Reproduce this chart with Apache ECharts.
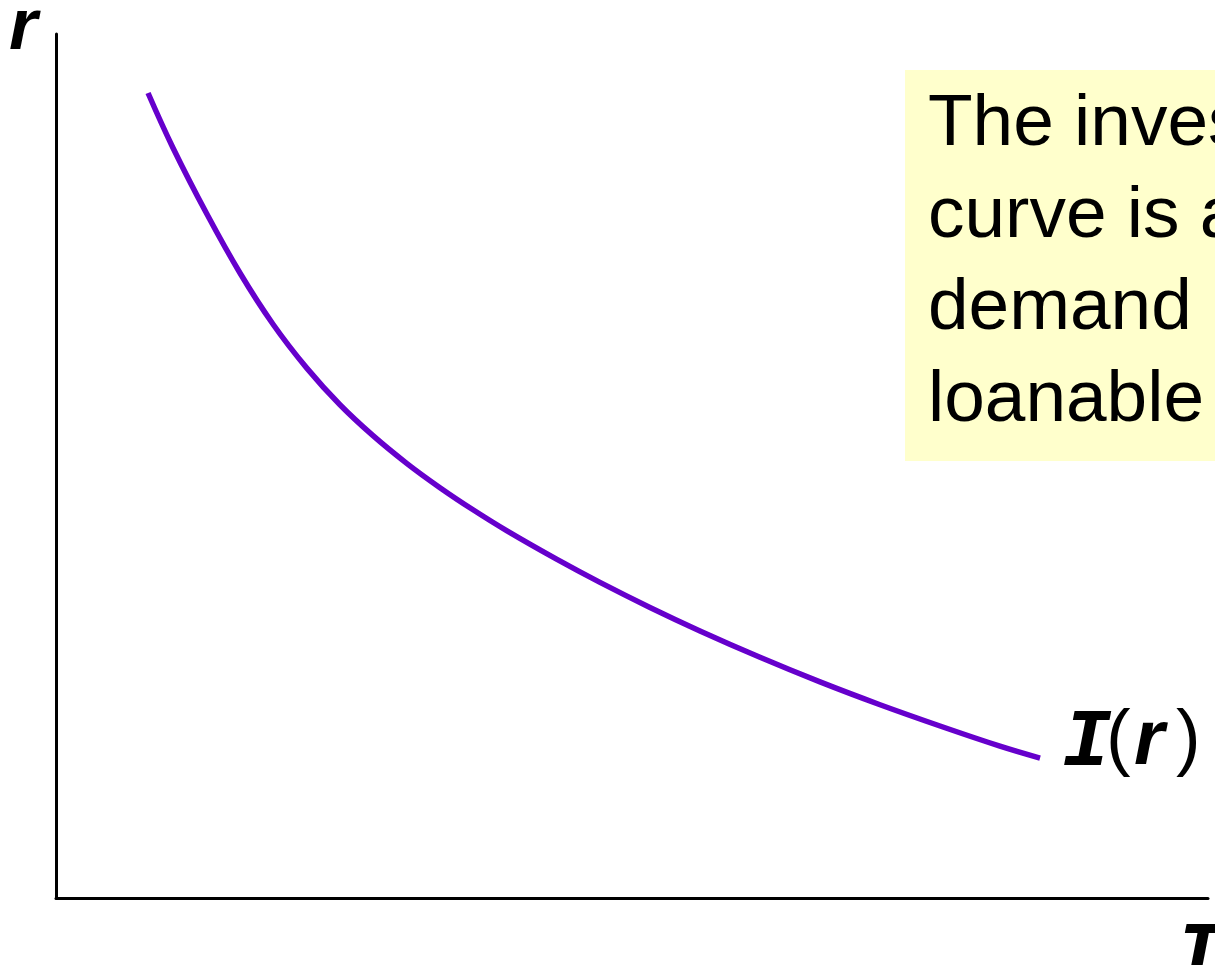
<!DOCTYPE html>
<html>
<head>
<meta charset="utf-8">
<script src="https://cdn.jsdelivr.net/npm/echarts@6/dist/echarts.min.js"></script>
<style>html,body{margin:0;padding:0;background:#fff;}#c{width:1215px;height:965px;}</style>
</head>
<body>
<div id="c"></div>
<script>
// Investment demand curve I(r) (axis units 0-100)
const investment = [7.99, 10.16, 13.11, 15.97, 18.84, 21.79, 24.65, 27.52, 30.47, 33.33, 36.20, 39.15, 43.49, 47.22, 51.56, 55.90, 61.11, 66.32, 71.53, 76.74, 81.94, 85.42];
const rate       = [93.17, 86.81, 79.13, 72.34, 66.41, 61.30, 57.09, 53.51, 50.28, 47.49, 44.93, 42.49, 39.19, 36.53, 33.63, 30.91, 27.86, 25.01, 22.37, 19.91, 17.58, 16.20];
const curveLabel = ['I', '(', 'r', ')'];
const yAxisName = 'r';
const xAxisName = 'I';
const noteLines = ['The investment', 'curve is also the', 'demand curve for', 'loanable funds'];

const points = investment.map((x, i) => [x, rate[i]]);

const chart = echarts.init(document.getElementById('c'), null, {renderer: 'canvas'});
const sans = '"Liberation Sans", Arial, sans-serif';
const mono = '"Liberation Mono", "Courier New", monospace';

chart.setOption({
  animation: false,
  backgroundColor: '#ffffff',
  grid: {left: 56, top: 34, right: 7, bottom: 67},
  xAxis: {
    type: 'value', min: 0, max: 100,
    axisLine: {show: true, lineStyle: {color: '#000', width: 3}},
    axisTick: {show: false}, axisLabel: {show: false}, splitLine: {show: false}
  },
  yAxis: {
    type: 'value', min: 0, max: 100,
    axisLine: {show: true, lineStyle: {color: '#000', width: 3}},
    axisTick: {show: false}, axisLabel: {show: false}, splitLine: {show: false}
  },
  series: [{
    type: 'line',
    data: points,
    smooth: 0.4,
    symbol: 'none',
    lineStyle: {color: '#6600cc', width: 5.5, cap: 'butt', join: 'round'}
  }],
  graphic: [
    {type: 'rect', left: 905, top: 70, shape: {width: 400, height: 391}, style: {fill: '#ffffcc'}, z: 1},
    {type: 'text', x: 928, y: 79, z: 2, style: {
      text: noteLines.join('\n'), font: '73px ' + sans, fill: '#000',
      lineHeight: 92, verticalAlign: 'top', align: 'left'}},
    {type: 'text', x: 9, y: 29, z: 2, style: {
      text: yAxisName, font: 'italic bold 73px ' + sans, fill: '#000', verticalAlign: 'middle', align: 'left'}},
    {type: 'text', x: 1174, y: 957, z: 2, style: {
      text: xAxisName, font: 'italic bold 82px ' + mono, fill: '#000', verticalAlign: 'middle', align: 'left'}},
    {type: 'text', x: 1062, y: 744, z: 2, style: {
      text: curveLabel[0], font: 'italic bold 82px ' + mono, fill: '#000', verticalAlign: 'middle', align: 'left'}},
    {type: 'text', x: 1106, y: 742, z: 2, style: {
      text: curveLabel[1], font: '74px ' + sans, fill: '#000', verticalAlign: 'middle', align: 'left'}},
    {type: 'text', x: 1134, y: 742, z: 2, style: {
      text: curveLabel[2], font: 'italic bold 78px ' + sans, fill: '#000', verticalAlign: 'middle', align: 'left'}},
    {type: 'text', x: 1176, y: 742, z: 2, style: {
      text: curveLabel[3], font: '74px ' + sans, fill: '#000', verticalAlign: 'middle', align: 'left'}}
  ]
});
</script>
</body>
</html>
